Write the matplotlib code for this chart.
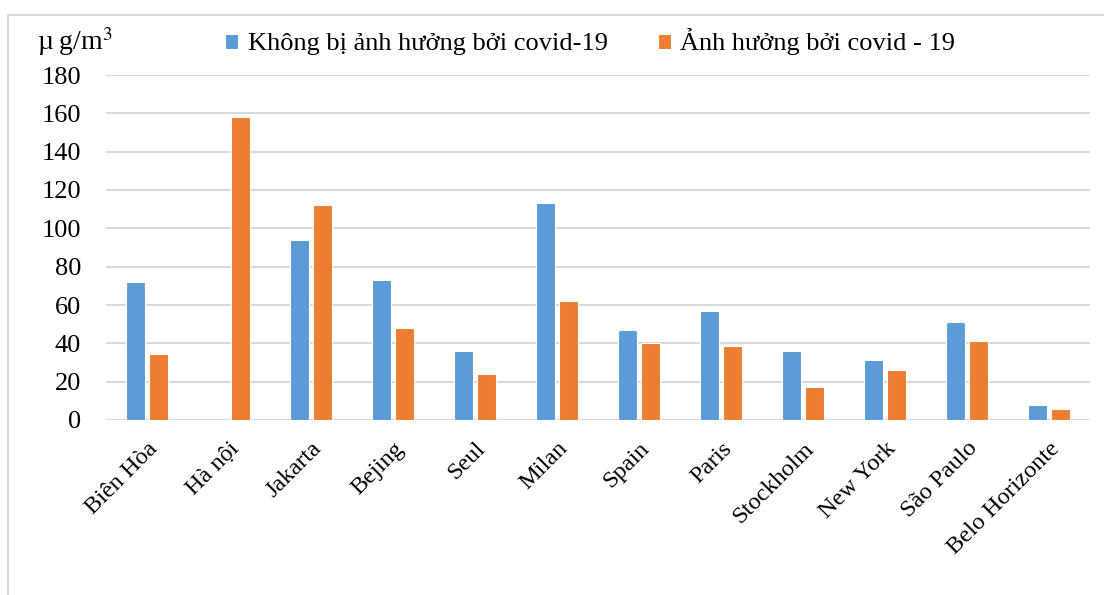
import numpy as np
import matplotlib.pyplot as plt
from matplotlib.lines import Line2D

# Data (µg/m3)
cities = ['Biên Hòa', 'Hà nội', 'Jakarta', 'Bejing', 'Seul', 'Milan', 'Spain',
          'Paris', 'Stockholm', 'New York', 'São Paulo', 'Belo Horizonte']
not_affected = [72, 0, 94, 73, 36, 113, 47, 57, 36, 31.5, 51, 8]
affected = [34.5, 158, 112, 48, 24, 62, 40, 38.5, 17, 26, 41, 5.5]
series_names = ['Không bị ảnh hưởng bởi covid-19', 'Ảnh hưởng bởi covid - 19']

plt.rcParams['font.family'] = ['Liberation Serif', 'DejaVu Serif']
plt.rcParams['mathtext.fontset'] = 'stix'

W, H = 1104, 595
fig = plt.figure(figsize=(W / 100, H / 100), dpi=100)
ax = fig.add_axes([106 / W, 1 - 420 / H, (1090 - 106) / W, (420 - 75) / H])

x = np.arange(len(cities))
bw = 0.225
off = 0.1425
ax.bar(x - off, not_affected, bw, color='#5B9BD5', edgecolor='white', linewidth=0.8,
       label=series_names[0], zorder=3)
ax.bar(x + off, affected, bw, color='#ED7D31', edgecolor='white', linewidth=0.8,
       label=series_names[1], zorder=3)

ax.set_xlim(-0.5, len(cities) - 0.5)
ax.set_ylim(0, 180)
ax.set_yticks(range(0, 181, 20))
ax.yaxis.grid(True, color='#D9D9D9', linewidth=1.5, zorder=0)
ax.set_axisbelow(True)
for s in ax.spines.values():
    s.set_visible(False)
ax.tick_params(axis='both', length=0)
ax.tick_params(axis='y', pad=18, labelsize=19)
ax.set_xticks(x)
ax.set_xticklabels(cities, rotation=45, ha='right', rotation_mode='anchor', fontsize=17.5)
ax.tick_params(axis='x', pad=13)

fig.text(37 / W, 1 - 42 / H, 'µ\u2009g/m$^{3}$', fontsize=20, va='center', ha='left')

fig.legend(loc='center left', bbox_to_anchor=(212 / W, 1 - 42 / H), ncol=2,
           frameon=False, fontsize=19, handlelength=0.5, handleheight=0.5,
           handletextpad=0.35, columnspacing=1.9, borderpad=0)

# outer chart border (top and left visible)
bc = '#D9D9D9'
fig.add_artist(Line2D([8 / W, 1], [1 - 15 / H, 1 - 15 / H], color=bc, lw=1.5))
fig.add_artist(Line2D([8 / W, 8 / W], [0, 1 - 15 / H], color=bc, lw=1.5))

plt.savefig('out.png', dpi=100)
